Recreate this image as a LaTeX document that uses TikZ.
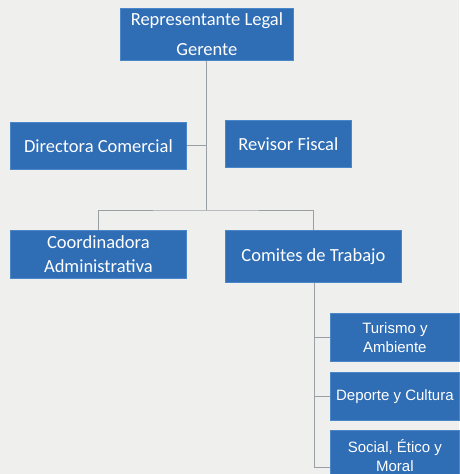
\documentclass[tikz,border=0pt]{standalone}
\usepackage{fontspec}
\setmainfont{Carlito}
\newfontfamily\arialf{Liberation Sans}
\definecolor{boxblue}{HTML}{2F6DB5}
\definecolor{boxedge}{HTML}{4A86C8}
\definecolor{linegray}{HTML}{9A9FA6}
\definecolor{paper}{HTML}{EFEFED}
\begin{document}
\begin{tikzpicture}[x=1pt,y=-1pt,
  orgbox/.style={draw=boxedge,fill=boxblue,line width=0.8pt,text=white,align=center,inner sep=0pt,anchor=north west},
  bigtext/.style={font=\fontsize{18.5}{24}\selectfont},
  smalltext/.style={font=\arialf\fontsize{15}{19}\selectfont},
  conn/.style={draw=linegray,line width=1pt}]
\fill[paper] (0,0) rectangle (459,474);
\useasboundingbox (0,0) rectangle (459,474);
\node[orgbox,minimum width=173pt,minimum height=52pt,font=\fontsize{18.5}{30}\selectfont] (top) at (120,8) {Representante Legal\\Gerente};
\node[orgbox,bigtext,minimum width=176pt,minimum height=47pt] (dir) at (10,122) {Directora Comercial};
\node[orgbox,bigtext,minimum width=126pt,minimum height=47pt] (rev) at (225,120) {Revisor Fiscal};
\node[orgbox,bigtext,minimum width=176pt,minimum height=48pt] (coord) at (10,230) {Coordinadora\\Administrativa};
\node[orgbox,bigtext,minimum width=176pt,minimum height=52pt] (com) at (225,230) {Comites de Trabajo};
\node[orgbox,smalltext,minimum width=129pt,minimum height=48pt] (tur) at (330,313) {Turismo y\\Ambiente};
\node[orgbox,smalltext,minimum width=129pt,minimum height=48pt] (dep) at (330,372) {Deporte y Cultura};
\node[orgbox,smalltext,minimum width=129pt,minimum height=50pt] (soc) at (330,430) {Social, Ético y\\Moral};
\coordinate (j) at (206,210);
\coordinate (cend) at (314,467);
\draw[conn] (top.south -| j) -- (j);
\draw[conn] (dir.east) -- (dir.east -| j);
\draw[conn] (coord.north) |- (j) -| (com.north);
\draw[conn] (com.south -| cend) -- (cend);
\draw[conn] (tur.west) -- (tur.west -| cend);
\draw[conn] (dep.west) -- (dep.west -| cend);
\draw[conn] (cend) -- (cend -| soc.west);
\end{tikzpicture}
\end{document}
